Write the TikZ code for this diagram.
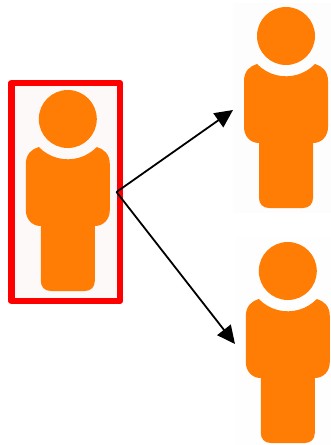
\documentclass[tikz,border=0pt]{standalone}
\usepackage{tikz}
\usetikzlibrary{arrows.meta}

\definecolor{personorange}{HTML}{FF7D05}
\definecolor{sourcetint}{HTML}{FCF9F8}
\definecolor{uppertint}{HTML}{FEFDFD}
\definecolor{lowertint}{HTML}{FEFEFE}
\tikzset{
  person/.pic={
    \fill[personorange] (0,0) circle (29);
    \fill[personorange] (-29,28) .. controls (-36,30) and (-42,35) .. (-42,45) -- (-42,91)
      .. controls (-42,100) and (-36,107) .. (-27,107) -- (-27,162)
      .. controls (-27,168) and (-23,172) .. (-17,172) -- (17,172)
      .. controls (23,172) and (27,168) .. (27,162) -- (27,107)
      .. controls (36,107) and (42,100) .. (42,91) -- (42,45)
      .. controls (42,35) and (36,30) .. (29,28)
      arc[start angle=44, end angle=136, radius=40.3] -- cycle;
  },
  tint/.style={inner sep=0pt, outer sep=0pt, minimum width=#1},
  link/.style={-{Triangle[length=18pt,width=17pt]}, line width=1.8pt}
}

\begin{document}
\begin{tikzpicture}[x=1pt,y=-1pt]

  \useasboundingbox (0,0) rectangle (331,445);

  \node[tint=98pt, minimum height=210pt, fill=uppertint] (upper) at (282,108) {};
  \node[tint=96pt, minimum height=208pt, fill=lowertint] (lower) at (283,341) {};
  \node[tint=108.5pt, minimum height=218pt, fill=sourcetint, draw=red, line width=6.5pt,
    line join=round] (source) at (65.75,192) {};

  \pic at (67.8,119) {person};
  \pic at (286,36) {person};
  \pic at (287.8,271) {person};

  \draw[link] ([xshift=-3.5pt]source.east) -- ([yshift=-2pt]upper.west);
  \draw[link] ([xshift=-3.5pt]source.east) -- ([yshift=-3pt]lower.west);

\end{tikzpicture}
\end{document}
